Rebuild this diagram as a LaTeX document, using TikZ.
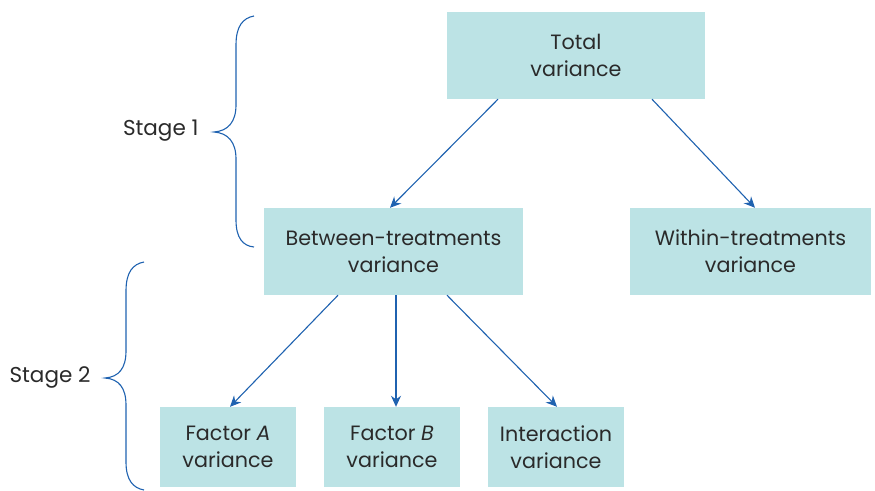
\documentclass[tikz,border=0pt]{standalone}
\usepackage{fontspec}
\setmainfont{Poppins}
\usetikzlibrary{arrows.meta}
\definecolor{boxfill}{HTML}{BCE3E5}
\definecolor{arrowblue}{HTML}{1F62B0}
\definecolor{txt}{HTML}{2A2A2A}
\begin{document}
\begin{tikzpicture}[x=1pt,y=-1pt,
  box/.style={fill=boxfill,draw=none,inner sep=0pt,minimum height=87pt,text=txt,align=center,font=\fontsize{20.7}{27}\selectfont},
  sbox/.style={box,minimum width=136pt,minimum height=80pt},
  arr/.style={draw=arrowblue,line width=1.1pt,-{Stealth[length=11pt,width=10pt]}},
  brace/.style={draw=arrowblue,line width=1.1pt},
  lbl/.style={text=txt,font=\fontsize{21.5}{24}\selectfont}]
\useasboundingbox (0,0) rectangle (875,490);
\node[box,minimum width=258pt] (total) at (576,55.5) {Total\\variance};
\node[box,minimum width=259pt] (between) at (393.5,251.5) {Between-treatments\\variance};
\node[box,minimum width=241pt] (within) at (750.5,251.5) {Within-treatments\\variance};
\node[sbox] (fa) at (228,447) {Factor \textit{A}\\variance};
\node[sbox] (fb) at (392,447) {Factor \textit{B}\\variance};
\node[sbox] (inter) at (556,447) {Interaction\\variance};
\draw[arr] ([xshift=-78pt]total.south) -- ([xshift=-3.5pt]between.north);
\draw[arr] ([xshift=76pt]total.south) -- ([xshift=4.5pt]within.north);
\draw[arr] ([xshift=-55.5pt]between.south) -- ([xshift=2pt]fa.north);
\draw[arr] ([xshift=2.5pt]between.south) -- ([xshift=4pt]fb.north);
\draw[arr] ([xshift=53.5pt]between.south) -- ([xshift=1pt]inter.north);
\coordinate (b1) at (214,132);
\coordinate (b2) at (105,378);
\draw[brace] (254,16) .. controls (243,18) and (236,26) .. (236,45) -- (236,105) .. controls (236,122) and (228,131) .. (b1) .. controls (228,133) and (236,142) .. (236,159) -- (236,220) .. controls (236,238) and (243,246) .. (254,247);
\draw[brace] (144,262) .. controls (133,264) and (126,272) .. (126,291) -- (126,351) .. controls (126,368) and (119,377) .. (b2) .. controls (119,379) and (126,388) .. (126,405) -- (126,462) .. controls (126,480) and (133,488) .. (144,490);
\node[lbl,anchor=east] (s1) at (202,131) {Stage 1};
\node[lbl,anchor=east] (s2) at (94,377) {Stage 2};
\end{tikzpicture}
\end{document}
